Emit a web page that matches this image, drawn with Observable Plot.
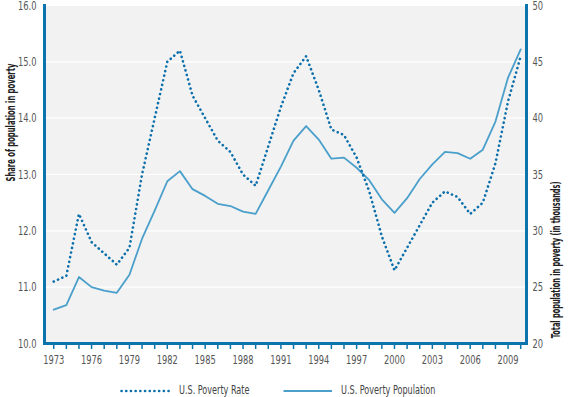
<!DOCTYPE html>
<html>
<head>
<meta charset="utf-8">
<script src="https://cdn.jsdelivr.net/npm/d3@7"></script>
<script src="https://cdn.jsdelivr.net/npm/@observablehq/plot@0.6"></script>
<style>
  body { margin: 0; background: #fff; font-family: "Liberation Sans Narrow", "DejaVu Sans Condensed", "Roboto", sans-serif; }
  #chart { width: 574px; }
  #legend { position: relative; width: 574px; height: 25px; }
  #legend .item { position: absolute; top: 5px; height: 25px; display: flex; align-items: center; font-size: 12.5px; color: #444; white-space: nowrap; }
  #legend svg { margin-right: 9px; margin-top: 2px; }
  #legend span { display: inline-block; transform: scaleX(0.72); transform-origin: left center; }
</style>
</head>
<body>
<div id="chart"></div>
<div id="legend"></div>
<script>
// ---- Data ----
const years = [1973,1974,1975,1976,1977,1978,1979,1980,1981,1982,1983,1984,1985,1986,1987,1988,1989,1990,1991,1992,1993,1994,1995,1996,1997,1998,1999,2000,2001,2002,2003,2004,2005,2006,2007,2008,2009,2010];
// U.S. Poverty Rate (share of population in poverty, %), left axis
const povertyRate = [11.1,11.2,12.3,11.8,11.6,11.4,11.7,13.0,14.0,15.0,15.2,14.4,14.0,13.6,13.4,13.0,12.8,13.5,14.2,14.8,15.1,14.5,13.8,13.7,13.3,12.7,11.9,11.3,11.7,12.1,12.5,12.7,12.6,12.3,12.5,13.2,14.3,15.1];
// U.S. Poverty Population (total population in poverty), right axis
const povertyPopulation = [23.0,23.4,25.9,25.0,24.7,24.5,26.1,29.3,31.8,34.4,35.3,33.7,33.1,32.4,32.2,31.7,31.5,33.6,35.7,38.0,39.3,38.1,36.4,36.5,35.6,34.5,32.8,31.6,32.9,34.6,35.9,37.0,36.9,36.4,37.2,39.7,43.6,46.1];
// Tick labels
const xTickLabels = [1973,1976,1979,1982,1985,1988,1991,1994,1997,2000,2003,2006,2009];
const leftTicks = [10,11,12,13,14,15,16];
const rightTicks = [20,25,30,35,40,45,50];
const seriesNames = ["U.S. Poverty Rate", "U.S. Poverty Population"];
const leftTitle = "Share of population in poverty";
const rightTitle = "Total population in poverty (in thousands)";

// ---- Styling ----
const axisBlue = "#0b74ad";
const rateColor = "#0a6fab";
const popColor = "#4a9fcb";
const font = '"Liberation Sans Narrow", "DejaVu Sans Condensed", "Roboto", sans-serif';
const squeeze = 0.74;
const dotted = {strokeWidth: 2.6, strokeDasharray: "0.1,4.6", strokeLinecap: "round"};

// right axis values mapped onto the left scale
const leftDomain = [leftTicks[0], leftTicks[leftTicks.length - 1]];
const rightDomain = [rightTicks[0], rightTicks[rightTicks.length - 1]];
const toLeft = v => leftDomain[0] + (v - rightDomain[0]) * (leftDomain[1] - leftDomain[0]) / (rightDomain[1] - rightDomain[0]);

const rateData = years.map((year, i) => ({year, value: povertyRate[i]}));
const popData = years.map((year, i) => ({year, value: toLeft(povertyPopulation[i])}));
const xDomain = [1972.27, 2010.46];

const chart = Plot.plot({
  width: 574,
  height: 372,
  marginLeft: 44,
  marginRight: 48,
  marginTop: 5,
  marginBottom: 29,
  style: {fontFamily: font, fontSize: "12.5px", background: "transparent", overflow: "visible"},
  x: {domain: xDomain},
  y: {domain: leftDomain},
  marks: [
    Plot.frame({fill: "#f2f2f2", stroke: "none"}),
    Plot.gridY(leftTicks, {stroke: "#ffffff", strokeOpacity: 1, strokeWidth: 1.2}),
    Plot.line(popData, {x: "year", y: "value", stroke: popColor, strokeWidth: 1.8}),
    Plot.line(rateData, {x: "year", y: "value", stroke: rateColor, ...dotted}),
    Plot.axisY(leftTicks, {anchor: "left", tickSize: 0, tickPadding: 8, tickFormat: d => d.toFixed(1), fill: "#555", label: null, fontSize: 12.5}),
    Plot.axisY(leftTicks, {anchor: "right", tickSize: 0, tickPadding: 6, tickFormat: d => String(rightTicks[leftTicks.indexOf(d)]), fill: "#555", label: null, fontSize: 12.5}),
    Plot.axisX(years, {anchor: "bottom", tickSize: 6, stroke: axisBlue, strokeWidth: 1.5, tickFormat: () => "", label: null}),
    Plot.axisX(xTickLabels, {anchor: "bottom", tickSize: 0, tickPadding: 12, tickFormat: d => String(d), fill: "#555", label: null, fontSize: 12.5}),
    Plot.ruleY([leftDomain[0]], {stroke: axisBlue, strokeWidth: 3}),
    Plot.ruleX([xDomain[0]], {stroke: axisBlue, strokeWidth: 3, insetTop: -1, insetBottom: -2}),
    Plot.ruleX([xDomain[1]], {stroke: axisBlue, strokeWidth: 3, insetTop: -1, insetBottom: -2}),
    Plot.text([leftTitle], {frameAnchor: "left", dx: -34, dy: 7, rotate: -90, fontWeight: "bold", fill: "#222", fontSize: 12.5, className: "ttl-left"}),
    Plot.text([rightTitle], {frameAnchor: "right", dx: 29, dy: 7, rotate: -90, fontWeight: "bold", fill: "#222", fontSize: 12.5, className: "ttl-right"})
  ]
});
document.getElementById("chart").appendChild(chart);

// Condense text horizontally (the reference uses a narrow typeface)
const svg = d3.select(chart);
function squeezeTo(sel, target) {
  sel.each(function() {
    const len = this.getComputedTextLength();
    const s = len > 0 ? target / len : 1;
    const t = d3.select(this);
    t.attr("transform", `${t.attr("transform") || ""} scale(${s},1)`);
  });
}
squeezeTo(svg.selectAll(".ttl-left text"), 118);
squeezeTo(svg.selectAll(".ttl-right text"), 157);
svg.selectAll("g[aria-label='y-axis tick label'] text, g[aria-label='x-axis tick label'] text").each(function() {
  const t = d3.select(this);
  t.attr("transform", `${t.attr("transform") || ""} scale(${squeeze},1)`);
});

// ---- Legend ----
const legend = d3.select("#legend");
const legendItems = [
  {name: seriesNames[0], left: 120, color: rateColor, style: dotted},
  {name: seriesNames[1], left: 282, color: popColor, style: {strokeWidth: 1.8}}
];
for (const it of legendItems) {
  const item = legend.append("div").attr("class", "item").style("left", it.left + "px");
  const s = item.append("svg").attr("width", 50).attr("height", 6);
  s.append("line").attr("x1", 1.5).attr("x2", 50).attr("y1", 3).attr("y2", 3)
    .attr("stroke", it.color).attr("stroke-width", it.style.strokeWidth)
    .attr("stroke-dasharray", it.style.strokeDasharray || null)
    .attr("stroke-linecap", it.style.strokeLinecap || null);
  item.append("span").text(it.name);
}
</script>
</body>
</html>
